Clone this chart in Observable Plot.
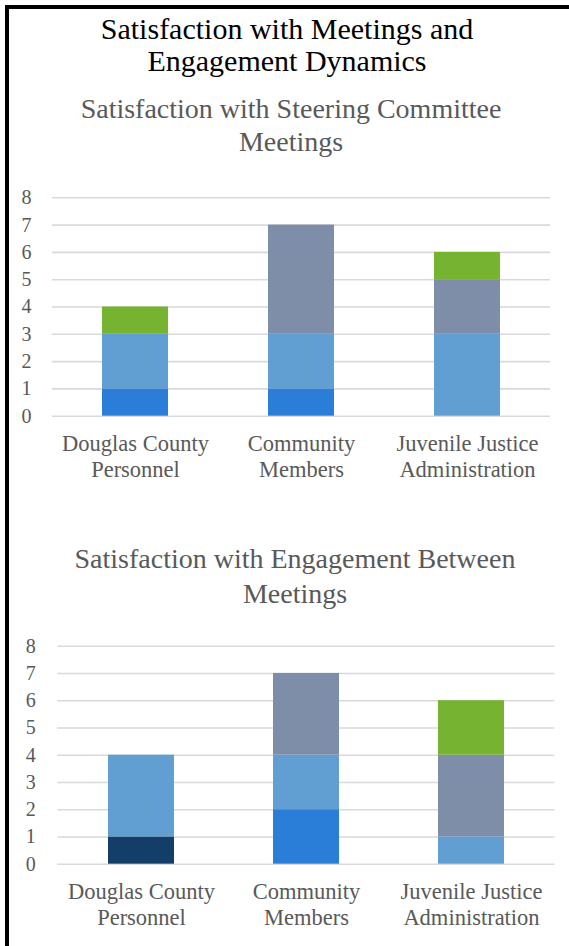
<!DOCTYPE html>
<html>
<head>
<meta charset="utf-8">
<script src="https://cdn.jsdelivr.net/npm/d3@7"></script>
<script src="https://cdn.jsdelivr.net/npm/@observablehq/plot@0.6"></script>
<style>
  html, body { margin: 0; padding: 0; background: #fff; }
  body { width: 569px; height: 946px; position: relative; overflow: hidden; font-family: "Liberation Serif", "Times New Roman", serif; }
  .frame { position: absolute; left: 5px; top: 5px; width: 600px; height: 980px; border-left: 4px solid #000; border-top: 4px solid #000; }
  .title { position: absolute; text-align: center; white-space: nowrap; font-family: "Liberation Serif", "Times New Roman", serif; font-weight: normal; }
  .main { left: 9px; width: 556px; top: 12.6px; font-size: 30px; line-height: 32.5px; color: #000; }
  .sub1 { left: 9px; width: 564px; top: 91.6px; font-size: 28px; line-height: 33.5px; color: #595959; }
  .sub2 { left: 9px; width: 572px; top: 541px; font-size: 28px; line-height: 35px; color: #595959; }
  .chart { position: absolute; left: 0; }
  .chart svg { overflow: visible; }
</style>
</head>
<body>
<div class="frame"></div>
<div class="title main" id="mainTitle"></div>
<div class="title sub1" id="sub1"></div>
<div class="title sub2" id="sub2"></div>
<div class="chart" id="c1" style="top:180px"></div>
<div class="chart" id="c2" style="top:620px"></div>
<script>
// ---- Text ----
const mainTitleLines = ["Satisfaction with Meetings and", "Engagement Dynamics"];
const meetingsTitleLines = ["Satisfaction with Steering Committee", "Meetings"];
const engagementTitleLines = ["Satisfaction with Engagement Between", "Meetings"];

// ---- Categories & ticks ----
const categories = ["Douglas County Personnel", "Community Members", "Juvenile Justice Administration"];
const categoryLabels = ["Douglas County\nPersonnel", "Community\nMembers", "Juvenile Justice\nAdministration"];
const yTicks = [0, 1, 2, 3, 4, 5, 6, 7, 8];

// ---- Series (bottom to top of stack) ----
const seriesNames = ["Very Satisfied", "Satisfied", "Somewhat Satisfied", "Neutral", "Dissatisfied"];
const seriesColors = ["#143e6a", "#2a7ed8", "#619ed2", "#7f8ea8", "#76b331"];

// Chart 1: Satisfaction with Steering Committee Meetings (per category)
const meetingsVerySatisfied     = [0, 0, 0];
const meetingsSatisfied         = [1, 1, 0];
const meetingsSomewhatSatisfied = [2, 2, 3];
const meetingsNeutral           = [0, 4, 2];
const meetingsDissatisfied      = [1, 0, 1];

// Chart 2: Satisfaction with Engagement Between Meetings (per category)
const engagementVerySatisfied     = [1, 0, 0];
const engagementSatisfied         = [0, 2, 0];
const engagementSomewhatSatisfied = [3, 2, 1];
const engagementNeutral           = [0, 3, 3];
const engagementDissatisfied      = [0, 0, 2];

function tidy(seriesArrays) {
  const rows = [];
  seriesArrays.forEach((vals, si) => {
    vals.forEach((v, ci) => {
      if (v > 0) rows.push({ category: categories[ci], series: seriesNames[si], value: v });
    });
  });
  return rows;
}

const meetingsRows = tidy([meetingsVerySatisfied, meetingsSatisfied, meetingsSomewhatSatisfied, meetingsNeutral, meetingsDissatisfied]);
const engagementRows = tidy([engagementVerySatisfied, engagementSatisfied, engagementSomewhatSatisfied, engagementNeutral, engagementDissatisfied]);

function setTitle(id, lines) {
  const el = document.getElementById(id);
  lines.forEach((l, i) => {
    if (i) el.appendChild(document.createElement("br"));
    el.appendChild(document.createTextNode(l));
  });
}
setTitle("mainTitle", mainTitleLines);
setTitle("sub1", meetingsTitleLines);
setTitle("sub2", engagementTitleLines);

function makeChart(rows, o) {
  return Plot.plot({
    width: 569,
    height: o.height,
    marginTop: o.marginTop,
    marginBottom: o.marginBottom,
    marginLeft: o.marginLeft,
    marginRight: o.marginRight,
    style: { fontFamily: "'Liberation Serif', 'Times New Roman', serif", background: "transparent", overflow: "visible" },
    x: { domain: categories, paddingInner: 0.6, paddingOuter: 0.3, axis: null, label: null },
    y: { domain: [0, 8], axis: null, label: null },
    color: { domain: seriesNames, range: seriesColors },
    marks: [
      Plot.ruleY(yTicks, { stroke: "#d9d9d9", strokeWidth: 1.6 }),
      Plot.barY(rows, { x: "category", y: "value", fill: "series", order: seriesNames }),
      Plot.axisY({ ticks: yTicks, tickSize: 0, tickPadding: o.tickPaddingY, fontSize: 20, color: "#595959", label: null, tickFormat: d => String(d) }),
      Plot.axisX({ tickSize: 0, tickPadding: 17, fontSize: 22.5, color: "#595959", lineHeight: 1.14, label: null,
                   tickFormat: d => categoryLabels[categories.indexOf(d)] })
    ]
  });
}

document.getElementById("c1").appendChild(makeChart(meetingsRows, {
  height: 310, marginTop: 17.3, marginBottom: 74.3, marginLeft: 52, marginRight: 19, tickPaddingY: 21
}));
document.getElementById("c2").appendChild(makeChart(engagementRows, {
  height: 320, marginTop: 25.7, marginBottom: 76.3, marginLeft: 57.3, marginRight: 14.7, tickPaddingY: 22
}));
</script>
</body>
</html>
